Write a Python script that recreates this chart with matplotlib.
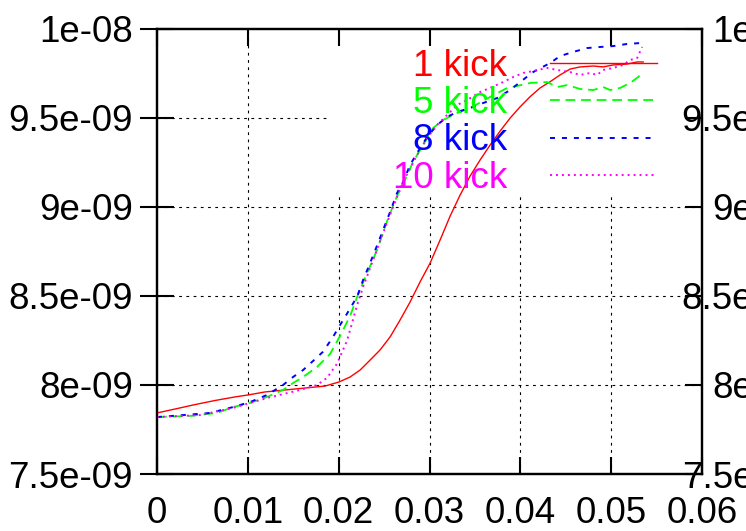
import matplotlib
matplotlib.use('Agg')
import matplotlib.pyplot as plt
from matplotlib.lines import Line2D

plt.rcParams['font.family'] = ['Liberation Sans', 'DejaVu Sans']
plt.rcParams['lines.scale_dashes'] = False

# ---------------- data ----------------
x_ticks = [0.0, 0.01, 0.02, 0.03, 0.04, 0.05, 0.06]
x_tick_labels = ['0', '0.01', '0.02', '0.03', '0.04', '0.05', '0.06']
y_ticks = [7.5e-9, 8.0e-9, 8.5e-9, 9.0e-9, 9.5e-9, 1.0e-8]
y_tick_labels = ['7.5e-09', '8e-09', '8.5e-09', '9e-09', '9.5e-09', '1e-08']

series_names = ['1 kick', '5 kick', '8 kick', '10 kick']

# y values in units of 1e-9
kick1_x = [0.0, 0.00198, 0.00419, 0.00639, 0.00859, 0.01002, 0.01189, 0.01410, 0.01630,
           0.01850, 0.02004, 0.02126, 0.02236, 0.02346, 0.02456, 0.02566, 0.02676, 0.02786,
           0.02896, 0.03007, 0.03117, 0.03227, 0.03337, 0.03447, 0.03557, 0.03667, 0.03778,
           0.03888, 0.03998, 0.04108, 0.04218, 0.04328, 0.04438, 0.04548, 0.04659, 0.04802,
           0.04912, 0.05022, 0.05176, 0.05286, 0.05352]
kick1_y = [7.843, 7.865, 7.890, 7.913, 7.933, 7.944, 7.961, 7.972, 7.983,
           7.994, 8.017, 8.045, 8.084, 8.140, 8.197, 8.270, 8.365, 8.466,
           8.579, 8.685, 8.815, 8.949, 9.067, 9.174, 9.264, 9.348, 9.427,
           9.500, 9.563, 9.620, 9.669, 9.704, 9.742, 9.775, 9.787, 9.792,
           9.787, 9.798, 9.803, 9.815, 9.815]

kick5_x = [0.0, 0.00363, 0.00661, 0.00837, 0.01024, 0.01211, 0.01388, 0.01498, 0.01608,
           0.01762, 0.01905, 0.02015, 0.02126, 0.02203, 0.02313, 0.02423, 0.02533, 0.02643,
           0.02731, 0.02819, 0.02930, 0.03040, 0.03150, 0.03304, 0.03447, 0.03667, 0.03855,
           0.03965, 0.04108, 0.04295, 0.04405, 0.04515, 0.04659, 0.04802, 0.04912, 0.04989,
           0.05099, 0.05209, 0.05297, 0.05341]
kick5_y = [7.820, 7.826, 7.843, 7.876, 7.899, 7.933, 7.972, 8.011, 8.045,
           8.101, 8.174, 8.275, 8.388, 8.494, 8.629, 8.758, 8.921, 9.062,
           9.152, 9.253, 9.348, 9.444, 9.489, 9.528, 9.556, 9.618, 9.669,
           9.680, 9.697, 9.702, 9.674, 9.685, 9.663, 9.657, 9.674, 9.657,
           9.669, 9.697, 9.730, 9.753]

kick8_x = [0.0, 0.00286, 0.00584, 0.00837, 0.01024, 0.01211, 0.01388, 0.01498, 0.01608,
           0.01718, 0.01828, 0.01938, 0.02015, 0.02070, 0.02148, 0.02203, 0.02269, 0.02346,
           0.02434, 0.02489, 0.02566, 0.02643, 0.02709, 0.02786, 0.02896, 0.02974, 0.03084,
           0.03194, 0.03304, 0.03447, 0.03590, 0.03744, 0.03888, 0.03998, 0.04141, 0.04328,
           0.04438, 0.04581, 0.04736, 0.04879, 0.05022, 0.05176, 0.05319]
kick8_y = [7.820, 7.831, 7.843, 7.876, 7.904, 7.944, 8.000, 8.045, 8.084,
           8.135, 8.187, 8.270, 8.337, 8.382, 8.449, 8.496, 8.590, 8.685,
           8.798, 8.871, 8.972, 9.079, 9.140, 9.236, 9.331, 9.393, 9.461,
           9.506, 9.534, 9.556, 9.584, 9.612, 9.657, 9.702, 9.758, 9.809,
           9.848, 9.871, 9.893, 9.899, 9.904, 9.916, 9.921]

kick10_x = [0.0, 0.00474, 0.00837, 0.01024, 0.01211, 0.01388, 0.01575, 0.01762, 0.01872,
            0.01982, 0.02093, 0.02203, 0.02269, 0.02379, 0.02489, 0.02599, 0.02709, 0.02863,
            0.02974, 0.03084, 0.03194, 0.03304, 0.03414, 0.03557, 0.03667, 0.03811, 0.03921,
            0.04031, 0.04141, 0.04295, 0.04405, 0.04548, 0.04659, 0.04769, 0.04846, 0.04912,
            0.05022, 0.05132, 0.05209, 0.05286, 0.05341]
kick10_y = [7.820, 7.831, 7.871, 7.899, 7.927, 7.949, 7.972, 8.000, 8.040,
            8.120, 8.250, 8.449, 8.551, 8.702, 8.854, 9.000, 9.140, 9.292,
            9.388, 9.461, 9.517, 9.573, 9.601, 9.646, 9.669, 9.702, 9.730,
            9.753, 9.764, 9.781, 9.770, 9.758, 9.742, 9.753, 9.742, 9.770,
            9.781, 9.798, 9.826, 9.837, 9.899]

# ---------------- styling ----------------
colors = ['#ff0000', '#00ff00', '#0000ff', '#ff00ff']
styles = ['-', (0, (7.0, 4.2)), (0, (3.6, 5.0)), (0, (1.4, 2.9))]
widths = [1.0, 1.3, 1.4, 1.4]
FS = 26.5

fig = plt.figure(figsize=(7.46, 5.31), dpi=100)
ax = fig.add_axes([157 / 746, 57 / 531, 545 / 746, 445 / 531])
ax.set_xlim(x_ticks[0], x_ticks[-1])
ax.set_ylim(y_ticks[0], y_ticks[-1])

# grid (key area left blank, like gnuplot)
key_left = 0.0188
key_bottom = 9.08e-9
grid_kw = dict(color='black', lw=0.8, linestyle=(0, (2.0, 3.2)), zorder=1)
for yv in y_ticks[1:-1]:
    ax.plot([x_ticks[0], key_left if yv > key_bottom else x_ticks[-1]], [yv, yv], **grid_kw)
for xv in x_ticks[1:-1]:
    ax.plot([xv, xv], [y_ticks[0], key_bottom if xv > key_left else y_ticks[-1]], **grid_kw)

all_x = [kick1_x, kick5_x, kick8_x, kick10_x]
all_y = [kick1_y, kick5_y, kick8_y, kick10_y]
handles = []
for xs, ys, c, ls, lw, name in zip(all_x, all_y, colors, styles, widths, series_names):
    ln, = ax.plot(xs, [v * 1e-9 for v in ys], color=c, linestyle=ls, lw=lw, label=name, zorder=3)
    handles.append(ln)

ax.set_xticks(x_ticks)
ax.set_xticklabels(x_tick_labels)
ax.set_yticks(y_ticks)
ax.set_yticklabels(y_tick_labels)
ax.tick_params(axis='x', direction='in', top=True, bottom=True, length=12, width=1.5,
               labelsize=FS, pad=15.5)
ax.tick_params(axis='y', direction='inout', left=True, right=False, length=24, width=1.5,
               labelsize=FS, pad=5.3)
for sp in ax.spines.values():
    sp.set_linewidth(1.6)

# right axis: inward ticks, labels right-aligned far outside (cut off by the figure)
ax2 = ax.twinx()
ax2.set_ylim(ax.get_ylim())
ax2.set_yticks(y_ticks)
ax2.set_yticklabels(y_tick_labels)
ax2.tick_params(axis='y', direction='in', length=12, width=1.5, labelsize=FS, pad=75)
for lab in ax2.get_yticklabels():
    lab.set_horizontalalignment('right')
for sp in ax2.spines.values():
    sp.set_linewidth(1.6)

leg = ax.legend(handles=handles, loc='upper right', bbox_to_anchor=(0.917, 0.955),
                frameon=False, markerfirst=False, labelcolor='linecolor',
                handlelength=2.9, handletextpad=1.17, labelspacing=0.06,
                borderpad=0, borderaxespad=0, fontsize=FS)

fig.savefig('out.png', dpi=100)
